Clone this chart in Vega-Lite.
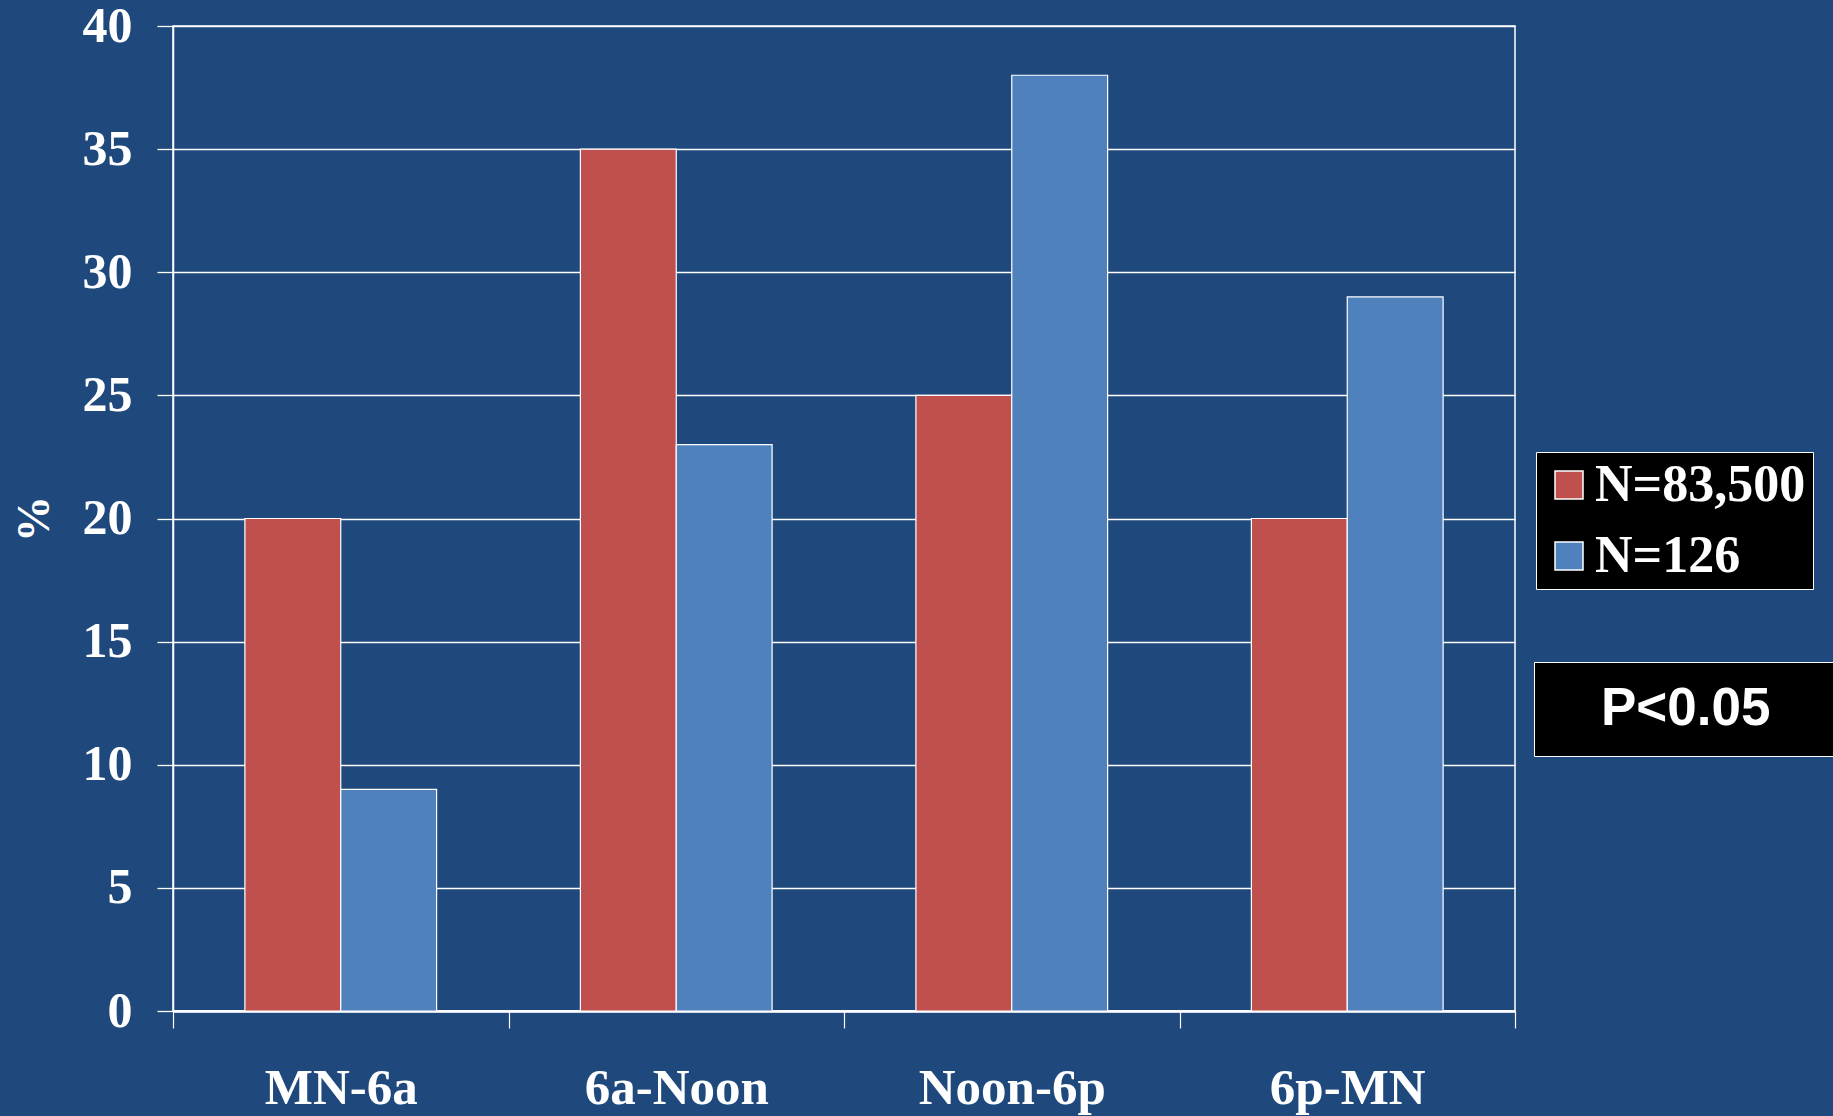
{
  "$schema": "https://vega.github.io/schema/vega-lite/v6.json",
  "width": 1342,
  "height": 985,
  "autosize": {"type": "none"},
  "padding": {"left": 173, "top": 26, "right": 318, "bottom": 105},
  "background": "#1F497D",
  "config": {
    "view": {"stroke": "#FFFFFF", "strokeWidth": 1.5},
    "font": "Liberation Serif"
  },
  "data": {
    "values": [
      {"period": "MN-6a", "group": "N=83,500", "pct": 20, "note": "P<0.05"},
      {"period": "MN-6a", "group": "N=126", "pct": 9, "note": "P<0.05"},
      {"period": "6a-Noon", "group": "N=83,500", "pct": 35, "note": "P<0.05"},
      {"period": "6a-Noon", "group": "N=126", "pct": 23, "note": "P<0.05"},
      {"period": "Noon-6p", "group": "N=83,500", "pct": 25, "note": "P<0.05"},
      {"period": "Noon-6p", "group": "N=126", "pct": 38, "note": "P<0.05"},
      {"period": "6p-MN", "group": "N=83,500", "pct": 20, "note": "P<0.05"},
      {"period": "6p-MN", "group": "N=126", "pct": 29, "note": "P<0.05"}
    ]
  },
  "mark": {"type": "bar", "stroke": "#FFFFFF", "strokeWidth": 1.2},
  "encoding": {
    "x": {
      "field": "period",
      "type": "nominal",
      "sort": ["MN-6a", "6a-Noon", "Noon-6p", "6p-MN"],
      "scale": {"paddingInner": 0, "paddingOuter": 0},
      "axis": {
        "title": null,
        "labelAngle": 0,
        "labelFont": "Liberation Serif",
        "labelFontWeight": "bold",
        "labelFontSize": 51,
        "labelColor": "#FFFFFF",
        "labelPadding": 35,
        "labelLimit": 600,
        "tickSize": 17,
        "tickColor": "#FFFFFF",
        "tickWidth": 1.2,
        "tickBand": "extent",
        "domainColor": "#FFFFFF",
        "domainWidth": 2.5,
        "grid": false
      }
    },
    "xOffset": {
      "field": "group",
      "type": "nominal",
      "sort": ["N=83,500", "N=126"],
      "scale": {"paddingInner": 0, "paddingOuter": 0.75}
    },
    "y": {
      "field": "pct",
      "type": "quantitative",
      "scale": {"domain": [0, 40], "nice": false},
      "axis": {
        "title": "%",
        "titleFont": "Liberation Serif",
        "titleFontSize": 46,
        "titleFontWeight": "bold",
        "titleColor": "#FFFFFF",
        "titlePadding": 24,
        "values": [0, 5, 10, 15, 20, 25, 30, 35, 40],
        "labelFont": "Liberation Serif",
        "labelFontSize": 50,
        "labelFontWeight": "bold",
        "labelColor": "#FFFFFF",
        "labelPadding": 25,
        "tickSize": 16,
        "tickColor": "#FFFFFF",
        "tickWidth": 1.3,
        "grid": true,
        "gridColor": "#FFFFFF",
        "gridWidth": 1.3,
        "gridOpacity": 1,
        "domainColor": "#FFFFFF",
        "domainWidth": 1.5
      }
    },
    "color": {
      "field": "group",
      "type": "nominal",
      "scale": {"domain": ["N=83,500", "N=126"], "range": ["#C0504D", "#4F81BD"]},
      "legend": {
        "title": null,
        "orient": "none",
        "legendX": 1363,
        "legendY": 426,
        "fillColor": "#000000",
        "strokeColor": "#FFFFFF",
        "padding": 7,
        "symbolType": "square",
        "symbolSize": 784,
        "symbolStrokeColor": "#FFFFFF",
        "symbolStrokeWidth": 1.5,
        "symbolOpacity": 1,
        "labelFont": "Liberation Serif",
        "labelFontWeight": "bold",
        "labelFontSize": 52,
        "labelColor": "#FFFFFF",
        "labelOffset": 0,
        "labelLimit": 500,
        "rowPadding": 19
      }
    },
    "opacity": {
      "field": "note",
      "type": "nominal",
      "scale": {"range": [1, 1]},
      "legend": {
        "title": null,
        "orient": "none",
        "legendX": 1361,
        "legendY": 636,
        "fillColor": "#000000",
        "strokeColor": "#FFFFFF",
        "padding": 20,
        "symbolOpacity": 0,
        "symbolSize": 1,
        "symbolStrokeWidth": 0,
        "labelFont": "Liberation Sans",
        "labelFontWeight": "bold",
        "labelFontSize": 53,
        "labelColor": "#FFFFFF",
        "labelOffset": -6,
        "labelLimit": 800,
        "labelExpr": "datum.label + '\u00a0\u00a0\u00a0\u00a0\u00a0\u00a0\u00a0\u00a0\u00a0\u00a0\u200b'"
      }
    }
  }
}
